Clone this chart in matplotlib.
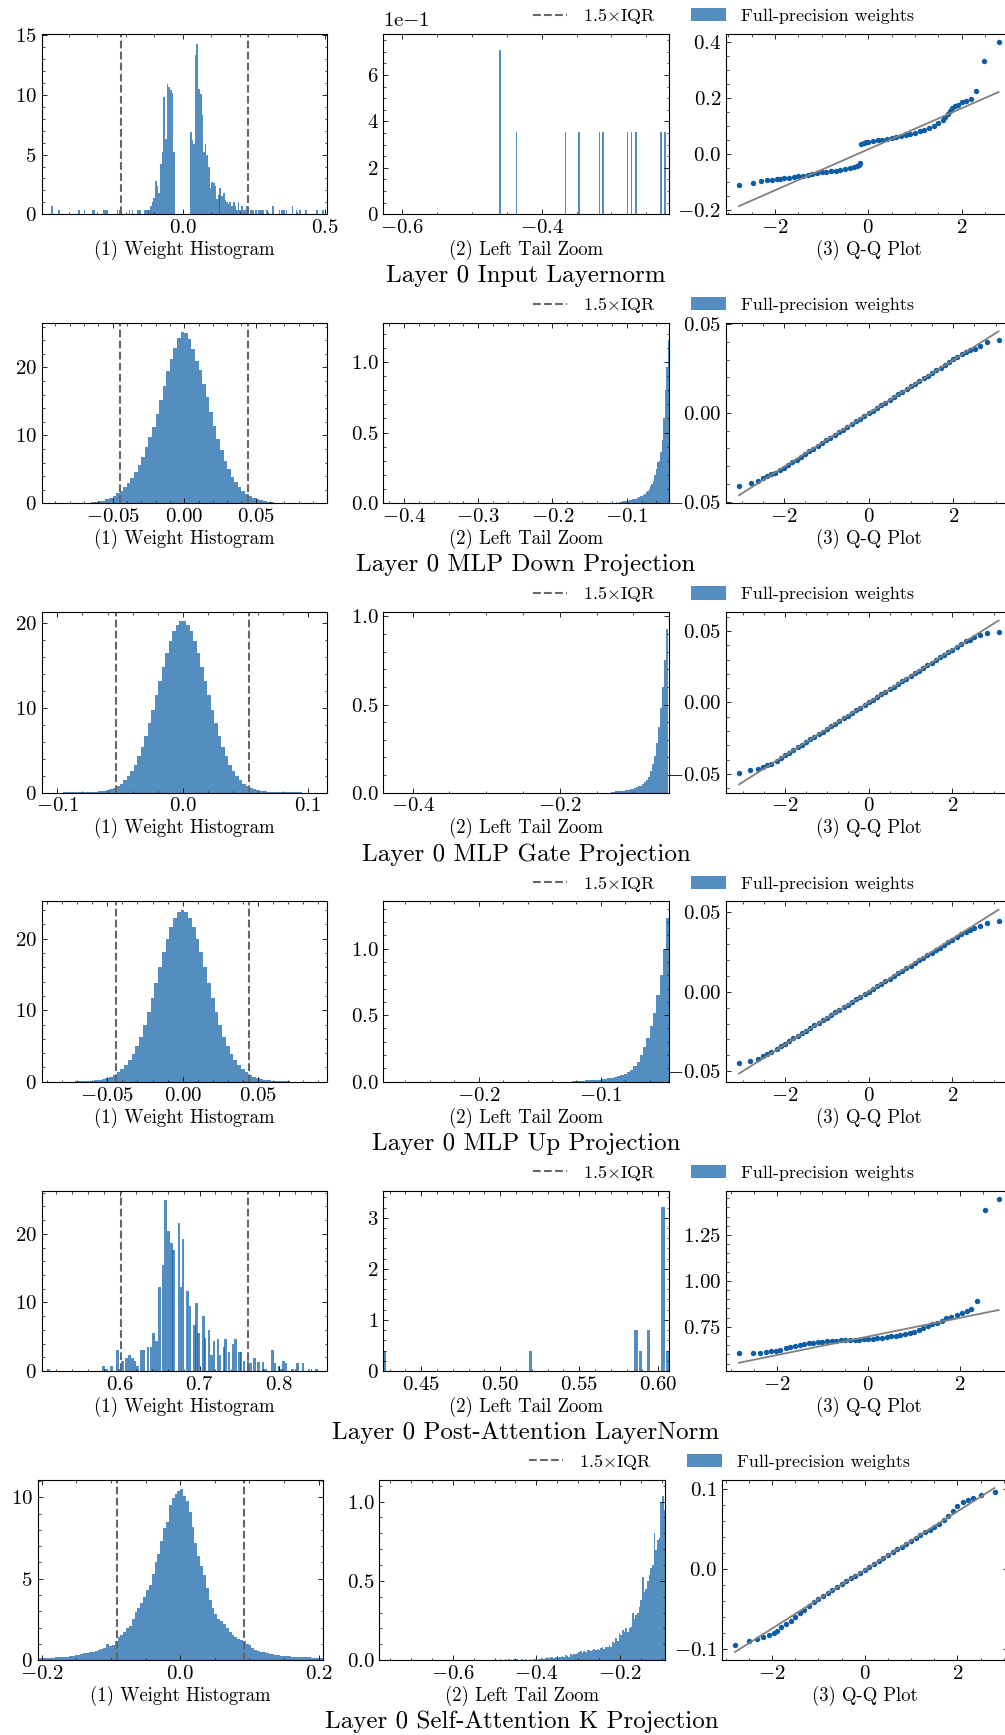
import numpy as np
import matplotlib
matplotlib.use("Agg")
import matplotlib.pyplot as plt
from matplotlib.lines import Line2D
from matplotlib.patches import Patch
from matplotlib.ticker import MultipleLocator, AutoMinorLocator, FuncFormatter

# ---------------- text ----------------
row_titles = ["Layer 0 Input Layernorm", "Layer 0 MLP Down Projection",
              "Layer 0 MLP Gate Projection", "Layer 0 MLP Up Projection",
              "Layer 0 Post-Attention LayerNorm", "Layer 0 Self-Attention K Projection"]
panel_labels = ["(1) Weight Histogram", "(2) Left Tail Zoom", "(3) Q-Q Plot"]
legend_labels = [r"1.5$\times$IQR", "Full-precision weights"]

# ---------------- Row 1: Input Layernorm ----------------
r1_hist_x = [-0.460, -0.436, -0.366, -0.346, -0.317, -0.312, -0.277, -0.271, -0.265, -0.229, -0.223,
             -0.187, -0.177, -0.158, -0.150, -0.135, -0.130, -0.123,
             -0.118, -0.112, -0.107, -0.101, -0.095, -0.089, -0.083, -0.077, -0.071, -0.066, -0.060,
             -0.054, -0.048, -0.042, -0.036, -0.030,
             0.028, 0.034, 0.040, 0.045, 0.051, 0.057, 0.063, 0.069, 0.074, 0.080, 0.086, 0.092,
             0.098, 0.103, 0.109, 0.115, 0.121, 0.127, 0.132, 0.138, 0.144, 0.150, 0.156, 0.161,
             0.167, 0.173, 0.179, 0.185, 0.190, 0.196, 0.202, 0.208, 0.214, 0.219, 0.225,
             0.231, 0.239, 0.248, 0.258, 0.267, 0.274, 0.283, 0.295, 0.318, 0.340, 0.348, 0.356,
             0.365, 0.386, 0.400, 0.412, 0.433, 0.471, 0.494]
r1_hist_h = [0.71, 0.35, 0.35, 0.35, 0.35, 0.35, 0.35, 0.35, 0.35, 0.35, 0.35,
             0.35, 0.35, 0.35, 0.35, 0.35, 0.35, 0.35,
             0.35, 0.7, 1.05, 1.4, 2.8, 2.4, 1.75, 4.2, 5.2, 9.8, 6.3, 10.9, 10.7, 10.4, 10.2, 5.2,
             6.9, 6.2, 5.9, 13.3, 14.3, 10.5, 10.1, 8.3, 5.2, 5.9, 5.0, 4.0, 2.2, 2.7, 2.6, 2.4,
             1.3, 1.6, 2.2, 1.5, 1.75, 1.2, 1.05, 0.9, 1.05, 0.7, 1.05, 0.7, 0.35, 1.05, 0.35,
             0.7, 0.35, 0.35, 0.7,
             0.35, 0.35, 0.35, 0.35, 0.35, 0.35, 0.35, 0.35, 0.7, 0.35, 0.35, 0.35, 0.35, 0.7,
             0.35, 0.35, 0.35, 0.35, 0.35]
r1_hist_bw = 0.0058
r1_fences = [-0.217, 0.229]
r1_tail_x = [-0.460, -0.436, -0.366, -0.346, -0.317, -0.312, -0.277, -0.271, -0.265, -0.229, -0.223]
r1_tail_h = [0.707, 0.354, 0.354, 0.354, 0.354, 0.354, 0.354, 0.354, 0.354, 0.354, 0.354]
r1_tail_bw = 0.0024
r1_qq_x = [-2.77, -2.47, -2.30, -2.18, -2.07, -1.96, -1.9, -1.8, -1.7, -1.6, -1.5, -1.4, -1.3,
           -1.2, -1.1, -1.0, -0.9, -0.8, -0.7, -0.6, -0.5, -0.4, -0.3, -0.25, -0.2, -0.17,
           -0.15, -0.1, -0.05, 0.0, 0.1, 0.2, 0.3, 0.4, 0.5, 0.6, 0.7, 0.8, 0.9, 1.0, 1.1, 1.2,
           1.3, 1.4, 1.5, 1.6, 1.65, 1.7, 1.75, 1.8, 1.86, 1.93, 2.0, 2.09, 2.19, 2.31, 2.48, 2.79]
r1_qq_y = [-0.113, -0.104, -0.098, -0.095, -0.093, -0.092, -0.090, -0.087, -0.085, -0.083,
           -0.080, -0.078, -0.075, -0.073, -0.070, -0.067, -0.064, -0.062, -0.060, -0.058,
           -0.055, -0.052, -0.047, -0.044, -0.040, -0.033,
           0.036, 0.039, 0.041, 0.043, 0.046, 0.048, 0.050, 0.053, 0.056, 0.059, 0.063, 0.067,
           0.071, 0.075, 0.080, 0.086, 0.092, 0.100, 0.110, 0.122, 0.130, 0.140, 0.152, 0.162,
           0.170, 0.175, 0.186, 0.187, 0.197, 0.225, 0.331, 0.398]
r1_qq_fit = [0.0732, 0.0158]

# ---------------- Row 2: MLP Down Projection ----------------
r2_hist_range = [-0.1, 0.1]
r2_hist_h = [0.02, 0.02, 0.02, 0.03, 0.03, 0.03, 0.04, 0.04, 0.05, 0.06,
             0.07, 0.08, 0.1, 0.13, 0.17, 0.23, 0.3, 0.42, 0.62, 0.85,
             1.15, 1.5, 1.9, 2.4, 3.0, 3.7, 4.6, 5.7, 6.9, 8.3,
             9.7, 11.3, 13.1, 15.2, 17.3, 19.4, 21.3, 22.9, 24.3, 25.2,
             25.0, 24.1, 22.7, 21.0, 19.6, 17.6, 15.6, 13.4, 11.4, 9.5,
             7.8, 6.3, 5.0, 3.9, 3.1, 2.4, 1.9, 1.45, 1.1, 0.85,
             0.62, 0.46, 0.34, 0.25, 0.18, 0.13, 0.1, 0.08, 0.06, 0.05,
             0.04, 0.03, 0.03, 0.03, 0.02, 0.02, 0.02, 0.01, 0.01, 0.01]
r2_fences = [-0.0446, 0.0447]
r2_tail_range = [-0.1226, -0.0426]
r2_tail_h = [0.005, 0.0, 0.005, 0.005, 0.01, 0.005, 0.01, 0.01, 0.015, 0.015,
             0.02, 0.02, 0.02, 0.025, 0.025, 0.03, 0.035, 0.035, 0.04, 0.045,
             0.05, 0.055, 0.06, 0.07, 0.08, 0.09, 0.1, 0.12, 0.14, 0.16,
             0.2, 0.24, 0.29, 0.3, 0.36, 0.45, 0.6, 0.8, 0.96, 1.157]
r2_qq_x = [-3.06, -2.78, -2.62, -2.50, -2.40, -2.30, -2.2, -2.1, -2.0, -1.9, -1.8, -1.7, -1.6,
           -1.5, -1.4, -1.3, -1.2, -1.1, -1.0, -0.9, -0.8, -0.7, -0.6, -0.5, -0.4, -0.3, -0.2,
           -0.1, 0.0, 0.1, 0.2, 0.3, 0.4, 0.5, 0.6, 0.7, 0.8, 0.9, 1.0, 1.1, 1.2, 1.3, 1.4, 1.5,
           1.6, 1.7, 1.8, 1.9, 2.0, 2.1, 2.2, 2.3, 2.4, 2.52, 2.64, 2.8, 3.07]
r2_qq_y = [-0.0413, -0.0398, -0.0383, -0.0366, -0.0354, -0.0342, -0.0338, -0.0323, -0.0310,
           -0.0294, -0.0279, -0.0263, -0.0248, -0.0232, -0.0216, -0.0201, -0.0186, -0.0170,
           -0.0155, -0.0140, -0.0125, -0.0110, -0.0094, -0.0079, -0.0063, -0.0048, -0.0033,
           -0.0018, -0.0003, 0.0012, 0.0027, 0.0042, 0.0058, 0.0073, 0.0088, 0.0104, 0.0119,
           0.0134, 0.0150, 0.0165, 0.0180, 0.0195, 0.0211, 0.0226, 0.0241, 0.0256, 0.0271,
           0.0286, 0.0302, 0.0316, 0.0330, 0.0343, 0.0356, 0.0362, 0.0375, 0.0400, 0.0413]
r2_qq_fit = [0.01509, -0.0003]

# ---------------- Row 3: MLP Gate Projection ----------------
r3_hist_range = [-0.112, 0.112]
r3_hist_h = [0.01, 0.01, 0.01, 0.01, 0.015, 0.015, 0.02, 0.02, 0.025, 0.03,
             0.035, 0.04, 0.05, 0.07, 0.09, 0.12, 0.16, 0.22, 0.3, 0.42,
             0.58, 0.8, 1.05, 1.45, 1.95, 2.55, 3.3, 4.3, 5.4, 6.7,
             8.2, 9.8, 11.5, 13.2, 14.9, 16.5, 17.9, 19.05, 19.85, 20.25,
             20.25, 19.85, 19.05, 17.9, 16.5, 14.9, 13.2, 11.5, 9.8, 8.2,
             6.7, 5.4, 4.3, 3.3, 2.55, 1.95, 1.45, 1.05, 0.8, 0.58,
             0.42, 0.3, 0.22, 0.16, 0.12, 0.09, 0.07, 0.05, 0.04, 0.035,
             0.03, 0.025, 0.02, 0.02, 0.015, 0.015, 0.01, 0.01, 0.01, 0.01]
r3_fences = [-0.053, 0.053]
r3_tail_range = [-0.1300, -0.0525]
r3_tail_h = [0.005, 0.005, 0.008, 0.008, 0.01, 0.01, 0.012, 0.015, 0.015, 0.02,
             0.02, 0.025, 0.03, 0.035, 0.04, 0.05, 0.06, 0.07, 0.09, 0.12,
             0.16, 0.21, 0.28, 0.37, 0.48, 0.6, 0.75, 0.93]
r3_qq_x = [-3.1, -2.83, -2.65, -2.52, -2.42, -2.33, -2.2, -2.1, -2.0, -1.9, -1.8, -1.7, -1.6,
           -1.5, -1.4, -1.3, -1.2, -1.1, -1.0, -0.9, -0.8, -0.7, -0.6, -0.5, -0.4, -0.3, -0.2,
           -0.1, 0.0, 0.1, 0.2, 0.3, 0.4, 0.5, 0.6, 0.7, 0.8, 0.9, 1.0, 1.1, 1.2, 1.3, 1.4, 1.5,
           1.6, 1.7, 1.8, 1.9, 2.0, 2.1, 2.2, 2.33, 2.42, 2.52, 2.65, 2.83, 3.1]
r3_qq_y = [-0.0490, -0.0470, -0.0465, -0.0450, -0.0440, -0.0428, -0.0407, -0.0389, -0.0370,
           -0.0352, -0.0333, -0.0315, -0.0296, -0.0278, -0.0259, -0.0241, -0.0222, -0.0204,
           -0.0185, -0.0167, -0.0148, -0.0130, -0.0111, -0.0093, -0.0074, -0.0056, -0.0037,
           -0.0019, 0.0, 0.0019, 0.0037, 0.0056, 0.0074, 0.0093, 0.0111, 0.0130, 0.0148,
           0.0167, 0.0185, 0.0204, 0.0222, 0.0241, 0.0259, 0.0278, 0.0296, 0.0315, 0.0333,
           0.0352, 0.0370, 0.0389, 0.0407, 0.0428, 0.0440, 0.0455, 0.0470, 0.0485, 0.0495]
r3_qq_fit = [0.0185, 0.0]

# ---------------- Row 4: MLP Up Projection ----------------
r4_hist_range = [-0.0938, 0.0962]
r4_hist_h = [0.01, 0.015, 0.015, 0.02, 0.02, 0.025, 0.03, 0.035, 0.04, 0.05,
             0.06, 0.08, 0.1, 0.14, 0.19, 0.26, 0.36, 0.5, 0.7, 0.95,
             1.3, 1.75, 2.3, 3.0, 3.9, 5.0, 6.3, 7.9, 9.7, 11.7,
             13.8, 16.0, 18.1, 20.0, 21.6, 22.9, 23.7, 24.0, 23.7, 22.9,
             21.6, 20.0, 18.1, 16.0, 13.8, 11.7, 9.7, 7.9, 6.3, 5.0,
             3.9, 3.0, 2.3, 1.75, 1.3, 0.95, 0.7, 0.5, 0.36, 0.26,
             0.19, 0.14, 0.1, 0.08, 0.06, 0.05, 0.04, 0.035, 0.03, 0.025,
             0.02, 0.02, 0.015, 0.015, 0.01, 0.01]
r4_fences = [-0.044, 0.044]
r4_tail_range = [-0.1240, -0.0440]
r4_tail_h = [0.005, 0.005, 0.008, 0.008, 0.01, 0.01, 0.012, 0.015, 0.015, 0.02,
             0.02, 0.025, 0.03, 0.035, 0.04, 0.05, 0.06, 0.07, 0.09, 0.12,
             0.15, 0.2, 0.26, 0.33, 0.42, 0.52, 0.65, 0.8, 1.0, 1.23]
r4_qq_x = [-3.1, -2.83, -2.65, -2.52, -2.42, -2.33, -2.2, -2.1, -2.0, -1.9, -1.8, -1.7, -1.6,
           -1.5, -1.4, -1.3, -1.2, -1.1, -1.0, -0.9, -0.8, -0.7, -0.6, -0.5, -0.4, -0.3, -0.2,
           -0.1, 0.0, 0.1, 0.2, 0.3, 0.4, 0.5, 0.6, 0.7, 0.8, 0.9, 1.0, 1.1, 1.2, 1.3, 1.4, 1.5,
           1.6, 1.7, 1.8, 1.9, 2.0, 2.1, 2.2, 2.33, 2.42, 2.52, 2.65, 2.83, 3.1]
r4_qq_y = [-0.0445, -0.0435, -0.0420, -0.0405, -0.0390, -0.0378, -0.0359, -0.0342, -0.0326,
           -0.0310, -0.0293, -0.0277, -0.0261, -0.0245, -0.0228, -0.0212, -0.0196, -0.0179,
           -0.0163, -0.0147, -0.0130, -0.0114, -0.0098, -0.0082, -0.0065, -0.0049, -0.0033,
           -0.0016, 0.0, 0.0016, 0.0033, 0.0049, 0.0065, 0.0082, 0.0098, 0.0114, 0.0130,
           0.0147, 0.0163, 0.0179, 0.0196, 0.0212, 0.0228, 0.0245, 0.0261, 0.0277, 0.0293,
           0.0310, 0.0326, 0.0342, 0.0359, 0.0375, 0.0388, 0.0400, 0.0415, 0.0430, 0.0445]
r4_qq_fit = [0.0166, 0.0]

# ---------------- Row 5: Post-Attention LayerNorm ----------------
r5_hist_x = [0.510, 0.579, 0.583, 0.589, 0.597, 0.599, 0.603, 0.608, 0.612, 0.616, 0.619,
             0.622, 0.627, 0.630, 0.635, 0.639, 0.642, 0.646, 0.650, 0.654, 0.657, 0.661,
             0.665, 0.667, 0.674, 0.677, 0.679, 0.685, 0.688, 0.694, 0.696, 0.699, 0.705,
             0.707, 0.712, 0.715, 0.718, 0.723, 0.726, 0.731, 0.733, 0.737, 0.742, 0.745,
             0.750, 0.752, 0.756, 0.761, 0.764, 0.769, 0.774, 0.780, 0.783, 0.792, 0.795,
             0.800, 0.803, 0.806, 0.809, 0.817, 0.823, 0.830, 0.838, 0.847]
r5_hist_h = [0.3, 0.73, 0.34, 0.73, 3.07, 0.25, 1.5, 1.95, 2.34, 1.9, 1.46,
             0.73, 3.07, 3.07, 3.56, 3.56, 5.6, 4.4, 12.3, 15.5, 25.0, 20.4,
             18.7, 17.7, 21.6, 12.3, 19.2, 11.6, 9.5, 6.7, 9.9, 5.6, 8.0,
             4.8, 6.0, 2.34, 4.4, 4.6, 2.34, 3.56, 4.6, 2.8, 4.0, 4.6,
             2.8, 2.8, 1.46, 1.95, 1.1, 1.95, 1.37, 1.37, 0.34, 3.07, 1.1,
             0.73, 0.34, 1.46, 1.2, 0.34, 1.17, 1.17, 0.34, 0.34]
r5_hist_bw = 0.0032
r5_fences = [0.6013, 0.7606]
r5_tail_x = [0.4265, 0.519, 0.586, 0.5886, 0.594, 0.603, 0.606]
r5_tail_h = [0.39, 0.39, 0.80, 0.39, 0.80, 3.21, 0.39]
r5_tail_bw = 0.0021
r5_qq_x = [-2.82, -2.52, -2.36, -2.23, -2.12, -2.02, -1.93, -1.8, -1.7, -1.6, -1.5, -1.4, -1.3,
           -1.2, -1.1, -1.0, -0.9, -0.8, -0.7, -0.6, -0.5, -0.4, -0.3, -0.2, -0.1, 0.0, 0.1,
           0.2, 0.3, 0.4, 0.5, 0.6, 0.7, 0.8, 0.9, 1.0, 1.1, 1.2, 1.3, 1.4, 1.5, 1.6, 1.7, 1.8,
           1.93, 2.04, 2.15, 2.25, 2.36, 2.55, 2.84]
r5_qq_y = [0.605, 0.605, 0.605, 0.612, 0.617, 0.619, 0.623, 0.634, 0.642, 0.648, 0.652, 0.656,
           0.659, 0.662, 0.665, 0.668, 0.671, 0.673, 0.675, 0.676, 0.677, 0.678, 0.679, 0.680,
           0.682, 0.683, 0.685, 0.688, 0.690, 0.693, 0.697, 0.701, 0.706, 0.712, 0.718, 0.724,
           0.732, 0.741, 0.752, 0.763, 0.773, 0.783, 0.795, 0.805, 0.814, 0.823, 0.837, 0.845,
           0.892, 1.386, 1.446]
r5_qq_fit = [0.0507, 0.697]

# ---------------- Row 6: Self-Attention K Projection ----------------
r6_hist_range = [-0.206, 0.206]
r6_hist_h = [0.13, 0.14, 0.12, 0.15, 0.14, 0.16, 0.17, 0.2, 0.19, 0.21,
             0.22, 0.24, 0.27, 0.3, 0.33, 0.38, 0.42, 0.45, 0.49, 0.52,
             0.57, 0.63, 0.68, 0.75, 0.98, 0.88, 0.95, 1.2, 1.43, 1.54,
             1.7, 1.95, 2.1, 2.5, 2.97, 3.18, 3.5, 3.9, 4.3, 4.6,
             5.3, 6.0, 6.5, 7.3, 8.1, 8.5, 9.5, 9.95, 10.2, 10.4,
             10.5, 10.1, 9.8, 9.1, 8.2, 7.2, 6.4, 5.8, 5.2, 4.4,
             3.7, 3.2, 2.85, 2.55, 2.4, 2.2, 1.95, 1.75, 1.56, 1.45,
             1.32, 1.25, 1.15, 1.02, 0.9, 0.75, 0.65, 0.55, 0.5, 0.48,
             0.45, 0.4, 0.36, 0.33, 0.3, 0.28, 0.27, 0.25, 0.23, 0.22,
             0.22, 0.21, 0.2, 0.2, 0.19, 0.17, 0.16, 0.15, 0.14, 0.13]
r6_fences = [-0.0918, 0.0918]
r6_tail_range = [-0.500, -0.092]
r6_tail_h = [0.006, 0, 0, 0.006, 0, 0, 0.006, 0, 0.006, 0, 0, 0.006, 0, 0.006, 0, 0, 0.006,
             0, 0.006, 0, 0, 0.006, 0, 0.006, 0.006, 0,
             0.006, 0.006, 0.012, 0.006, 0.012, 0.017, 0.012, 0.017, 0.02, 0.012, 0.017, 0.025,
             0.02, 0.017, 0.025, 0.02, 0.03, 0.025, 0.02, 0.036, 0.03, 0.04, 0.036, 0.045, 0.05,
             0.059, 0.045, 0.059, 0.05, 0.063, 0.067, 0.055, 0.067, 0.072, 0.067, 0.072, 0.063,
             0.076, 0.08, 0.072, 0.084, 0.08, 0.095, 0.084, 0.116, 0.105, 0.137, 0.12, 0.168,
             0.158, 0.189, 0.18, 0.2, 0.18, 0.2, 0.21, 0.295, 0.26, 0.284, 0.3, 0.337, 0.38,
             0.526, 0.43, 0.45, 0.5, 0.537, 0.58, 0.6, 0.8, 0.695, 0.758, 0.768, 1.0, 1.034,
             0.947]
r6_qq_x = [-2.8, -2.5, -2.32, -2.19, -2.07, -1.96, -1.9, -1.8, -1.7, -1.6, -1.5, -1.4, -1.3,
           -1.2, -1.1, -1.0, -0.9, -0.8, -0.7, -0.6, -0.5, -0.4, -0.3, -0.2, -0.1, 0.0, 0.1,
           0.2, 0.3, 0.4, 0.5, 0.6, 0.7, 0.8, 0.9, 1.0, 1.1, 1.2, 1.3, 1.4, 1.5, 1.6, 1.7, 1.8,
           1.9, 2.0, 2.11, 2.22, 2.33, 2.51, 2.8]
r6_qq_y = [-0.095, -0.089, -0.0866, -0.084, -0.0816, -0.079, -0.0765, -0.0725, -0.0688,
           -0.0645, -0.0600, -0.0552, -0.0505, -0.0458, -0.0412, -0.0368, -0.0328, -0.0292,
           -0.0257, -0.0222, -0.0186, -0.0150, -0.0113, -0.0077, -0.0040, -0.0003, 0.0033,
           0.007, 0.0106, 0.0142, 0.0178, 0.0213, 0.0249, 0.0285, 0.032, 0.0356, 0.039, 0.0425,
           0.0462, 0.0495, 0.0528, 0.0570, 0.0615, 0.067, 0.0735, 0.0795, 0.0845, 0.087,
           0.0887, 0.093, 0.0962]
r6_qq_fit = [0.0366, -0.0008]

# axis limits / tick steps per row: (hist, tail, qq)
hist_xlim = [(-0.496, 0.506), (-0.0995, 0.0995), (-0.1126, 0.1152), (-0.0936, 0.0957),
             (0.5015, 0.86), (-0.206, 0.206)]
hist_ylim = [(0, 15.1), (0, 26.5), (0, 21.3), (0, 25.2), (0, 26.3), (0, 11.07)]
tail_xlim = [(-0.627, -0.217), (-0.428, -0.0426), (-0.44, -0.051), (-0.278, -0.044),
             (0.426, 0.607), (-0.775, -0.0925)]
tail_ylim = [(0, 0.777), (0, 1.273), (0, 1.023), (0, 1.353), (0, 3.53), (0, 1.137)]
hist_steps = [(0.5, 5), (0.05, 10), (0.1, 10), (0.05, 10), (0.1, 10), (0.2, 5)]
tail_steps = [(0.2, 0.2), (0.1, 0.5), (0.2, 0.5), (0.1, 0.5), (0.05, 1), (0.2, 0.5)]
qq_steps = [(2, 0.2), (2, 0.05), (2, 0.05), (2, 0.05), (2, 0.25), (2, 0.1)]

# ---------------- style ----------------
plt.rcParams.update({
    "font.family": "serif",
    "font.serif": ["cmr10"],
    "mathtext.fontset": "cm",
    "axes.formatter.use_mathtext": True,
    "axes.unicode_minus": True,
    "xtick.direction": "in", "ytick.direction": "in",
    "xtick.top": True, "ytick.right": True,
    "xtick.major.size": 3.5, "ytick.major.size": 3.5,
    "xtick.minor.size": 1.8, "ytick.minor.size": 1.8,
    "xtick.major.width": 0.6, "ytick.major.width": 0.6,
    "xtick.minor.width": 0.5, "ytick.minor.width": 0.5,
    "axes.linewidth": 0.8,
    "xtick.labelsize": 15, "ytick.labelsize": 15,
    "axes.labelsize": 13.5,
})

BAR = "#0C5DA5"
FENCE = "#666666"
W, H = 1005, 1735
ROW_H = H / 6.0

fig = plt.figure(figsize=(W / 100, H / 100), dpi=100)


def add_ax(r, left, right, dx=0, top=34.0, bottom=214.3):
    y0 = r * ROW_H
    return fig.add_axes([(left + dx) / W, 1 - (y0 + bottom) / H,
                         (right - left) / W, (bottom - top) / H])


def uniform_bins(rng, h):
    edges = np.linspace(rng[0], rng[1], len(h) + 1)
    return (edges[:-1] + edges[1:]) / 2, edges[1] - edges[0]


def style(ax, xstep, ystep):
    ax.xaxis.set_major_locator(MultipleLocator(xstep))
    ax.yaxis.set_major_locator(MultipleLocator(ystep))
    ax.xaxis.set_minor_locator(AutoMinorLocator())
    ax.yaxis.set_minor_locator(AutoMinorLocator())


hist_data = [
    (r1_hist_x, r1_hist_bw),
    uniform_bins(r2_hist_range, r2_hist_h),
    uniform_bins(r3_hist_range, r3_hist_h),
    uniform_bins(r4_hist_range, r4_hist_h),
    (r5_hist_x, r5_hist_bw),
    uniform_bins(r6_hist_range, r6_hist_h),
]
hist_heights = [r1_hist_h, r2_hist_h, r3_hist_h, r4_hist_h, r5_hist_h, r6_hist_h]
tail_data = [
    (r1_tail_x, r1_tail_bw),
    uniform_bins(r2_tail_range, r2_tail_h),
    uniform_bins(r3_tail_range, r3_tail_h),
    uniform_bins(r4_tail_range, r4_tail_h),
    (r5_tail_x, r5_tail_bw),
    uniform_bins(r6_tail_range, r6_tail_h),
]
tail_heights = [r1_tail_h, r2_tail_h, r3_tail_h, r4_tail_h, r5_tail_h, r6_tail_h]
fences = [r1_fences, r2_fences, r3_fences, r4_fences, r5_fences, r6_fences]
qq_data = [(r1_qq_x, r1_qq_y, r1_qq_fit), (r2_qq_x, r2_qq_y, r2_qq_fit),
           (r3_qq_x, r3_qq_y, r3_qq_fit), (r4_qq_x, r4_qq_y, r4_qq_fit),
           (r5_qq_x, r5_qq_y, r5_qq_fit), (r6_qq_x, r6_qq_y, r6_qq_fit)]

for r in range(6):
    dx = -4 if r == 5 else 0
    y0 = r * ROW_H
    # ---- panel 1: histogram ----
    ax1 = add_ax(r, 41.7, 326.7, dx)
    centers, bw = hist_data[r]
    ax1.bar(centers, hist_heights[r], width=bw, color=BAR, alpha=0.7, linewidth=0)
    for f in fences[r]:
        ax1.axvline(f, ls="--", color=FENCE, lw=1.5)
    ax1.set_xlim(*hist_xlim[r])
    ax1.set_ylim(*hist_ylim[r])
    style(ax1, *hist_steps[r])
    ax1.set_xlabel(panel_labels[0], labelpad=2.0)

    # ---- panel 2: left tail zoom ----
    ax2 = add_ax(r, 383.3, 669.3, dx)
    centers, bw = tail_data[r]
    ax2.bar(centers, tail_heights[r], width=bw, color=BAR, alpha=0.7, linewidth=0)
    ax2.set_xlim(*tail_xlim[r])
    ax2.set_ylim(*tail_ylim[r])
    style(ax2, *tail_steps[r])
    ax2.set_xlabel(panel_labels[1], labelpad=2.0)
    if r == 0:
        ax2.yaxis.set_major_formatter(FuncFormatter(lambda v, p: r"$%g$" % round(v * 10, 6)))
        ax2.text(0.0, 1.02, r"1e$-$1", transform=ax2.transAxes, ha="left", va="bottom",
                 fontsize=15)

    # ---- panel 3: Q-Q plot ----
    ax3 = add_ax(r, 726.0, 1011.5, dx)
    qx, qy, fit = qq_data[r]
    ax3.plot(qx, qy, "o", color=BAR, ms=3.9, mew=0)
    xs = np.array([min(qx), max(qx)])
    ax3.plot(xs, fit[0] * xs + fit[1], "-", color="#808080", lw=1.3)
    style(ax3, *qq_steps[r])
    ax3.set_xlabel(panel_labels[2], labelpad=2.0)

    # ---- legend and row title ----
    handles = [Line2D([], [], ls="--", color=FENCE, lw=1.5),
               Patch(facecolor=BAR, alpha=0.7, linewidth=0)]
    fig.legend(handles, legend_labels, loc="center",
               bbox_to_anchor=((723.5 + dx) / W, 1 - (y0 + 16) / H), ncol=2, frameon=False,
               fontsize=13, handlelength=1.9, handleheight=0.75, handletextpad=0.85,
               columnspacing=2.0, borderpad=0.0)
    fig.text((526 + dx) / W, 1 - (y0 + 276) / H, row_titles[r], ha="center", va="center",
             fontsize=18)

fig.savefig("out.png", dpi=100)
